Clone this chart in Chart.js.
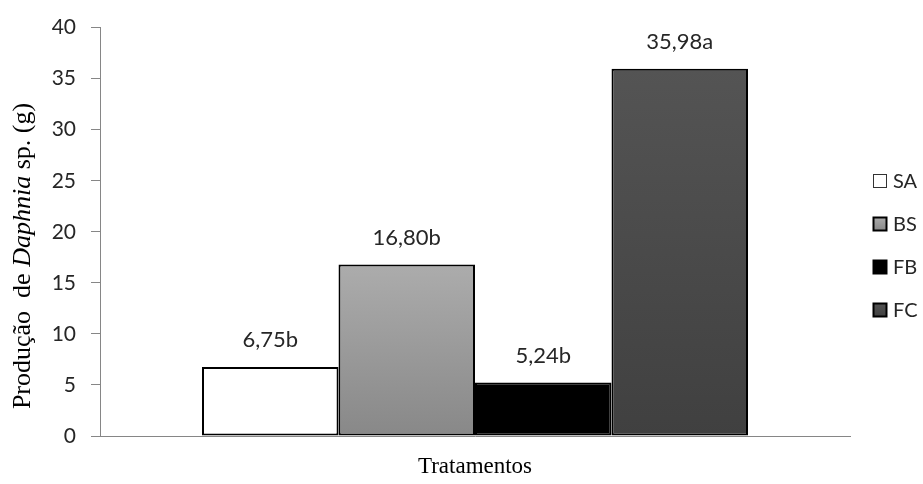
<!DOCTYPE html>
<html lang="pt-BR">
<head>
<meta charset="utf-8">
<title>Produção de Daphnia sp.</title>
<script src="https://cdn.jsdelivr.net/npm/chart.js@4.4.1/dist/chart.umd.min.js"></script>
<style>
  html, body { margin: 0; padding: 0; background: #fff; }
  #wrap { width: 923px; height: 484px; }
</style>
</head>
<body>
<div id="wrap"><canvas id="daphniaChart" width="923" height="484"></canvas></div>
<script>
// dados
const categorias = [''];
const tratamentos = ['SA', 'BS', 'FB', 'FC'];
const producao = [6.75, 16.80, 5.24, 35.98];
const letras = ['b', 'b', 'b', 'a'];
const yMin = 0, yMax = 40, yPasso = 5;

(() => {
  'use strict';

  // cores (topo -> base) de cada tratamento
  const corTopo = ['#ffffff', '#acacac', '#000000', '#545454'];
  const corBase = ['#ffffff', '#888888', '#000000', '#404040'];
  const SANS = 'Lato, "Open Sans", sans-serif';
  const SERIF = '"Liberation Serif", "DejaVu Serif", serif';
  const fmt = v => v.toFixed(2).replace('.', ',');

  function gradiente(ctx, i) {
    const chart = ctx.chart;
    if (!chart.chartArea || !chart.scales.y) return corBase[i];
    const y = chart.scales.y;
    const g = chart.ctx.createLinearGradient(0, y.getPixelForValue(ctx.raw || 0), 0, y.getPixelForValue(0));
    g.addColorStop(0, corTopo[i]);
    g.addColorStop(1, corBase[i]);
    return g;
  }

  // rótulos em cima das barras
  const rotulos = {
    id: 'rotulos',
    afterDatasetsDraw(chart) {
      const c = chart.ctx;
      c.save();
      c.font = '22px ' + SANS;
      c.fillStyle = '#262626';
      c.textAlign = 'center';
      c.textBaseline = 'middle';
      chart.data.datasets.forEach((ds, i) => {
        const bar = chart.getDatasetMeta(i).data[0];
        if (bar) c.fillText(fmt(ds.data[0]) + letras[i], bar.x, bar.y - 27);
      });
      c.restore();
    }
  };

  // legenda lateral
  const legenda = {
    id: 'legenda',
    afterDraw(chart) {
      const c = chart.ctx;
      c.save();
      c.font = '20px ' + SANS;
      c.textBaseline = 'middle';
      chart.data.datasets.forEach((ds, i) => {
        const y = 181 + i * 43;
        const g = c.createLinearGradient(0, y - 7, 0, y + 7);
        g.addColorStop(0, corTopo[i]);
        g.addColorStop(1, corBase[i]);
        c.fillStyle = g;
        c.fillRect(873, y - 7, 14, 14);
        c.lineWidth = i === 0 ? 1 : 2;
        c.strokeStyle = i === 0 ? '#333' : '#000';
        c.strokeRect(873.5, y - 6.5, 13, 13);
        c.fillStyle = '#262626';
        c.fillText(ds.label, 893, y + 1);
      });
      c.restore();
    }
  };

  // títulos dos eixos (com "Daphnia" em itálico)
  const titulos = {
    id: 'titulos',
    afterDraw(chart) {
      const c = chart.ctx;
      c.save();
      c.fillStyle = '#000';
      c.textBaseline = 'middle';
      c.font = '23px ' + SERIF;
      c.textAlign = 'center';
      c.fillText('Tratamentos', 475, 467);

      const partes = [
        ['Produção  de ', 'normal'],
        ['Daphnia', 'italic'],
        [' sp. (g)', 'normal']
      ];
      let total = 0;
      partes.forEach(p => { c.font = p[1] + ' 26px ' + SERIF; p.w = c.measureText(p[0]).width; total += p.w; });
      c.translate(23, 256);
      c.rotate(-Math.PI / 2);
      c.textAlign = 'left';
      let x = -total / 2;
      partes.forEach(p => { c.font = p[1] + ' 26px ' + SERIF; c.fillText(p[0], x, 0); x += p.w; });
      c.restore();
    }
  };

  const ctx = document.getElementById('daphniaChart');
  new Chart(ctx, {
    type: 'bar',
    data: {
      labels: categorias,
      datasets: tratamentos.map((t, i) => ({
        label: t,
        data: [producao[i]],
        backgroundColor: c => gradiente(c, i),
        borderColor: '#000',
        borderWidth: 2,
        borderSkipped: false
      }))
    },
    options: {
      responsive: false,
      animation: false,
      layout: { padding: { top: 26, right: 73, left: 0, bottom: 0 } },
      datasets: { bar: { barPercentage: 1, categoryPercentage: 0.728 } },
      plugins: { legend: { display: false }, tooltip: { enabled: false } },
      scales: {
        x: {
          grid: { display: false },
          border: { color: '#868686', width: 1 },
          ticks: { display: false },
          afterFit: s => { s.height = 48; }
        },
        y: {
          min: yMin,
          max: yMax,
          ticks: { stepSize: yPasso, padding: 15, color: '#262626', font: { family: SANS, size: 21 } },
          grid: { drawOnChartArea: false, drawTicks: true, tickLength: 9, color: '#868686' },
          border: { color: '#868686', width: 1 },
          afterFit: s => { s.width = 100; }
        }
      }
    },
    plugins: [rotulos, legenda, titulos]
  });
})();
</script>
</body>
</html>
